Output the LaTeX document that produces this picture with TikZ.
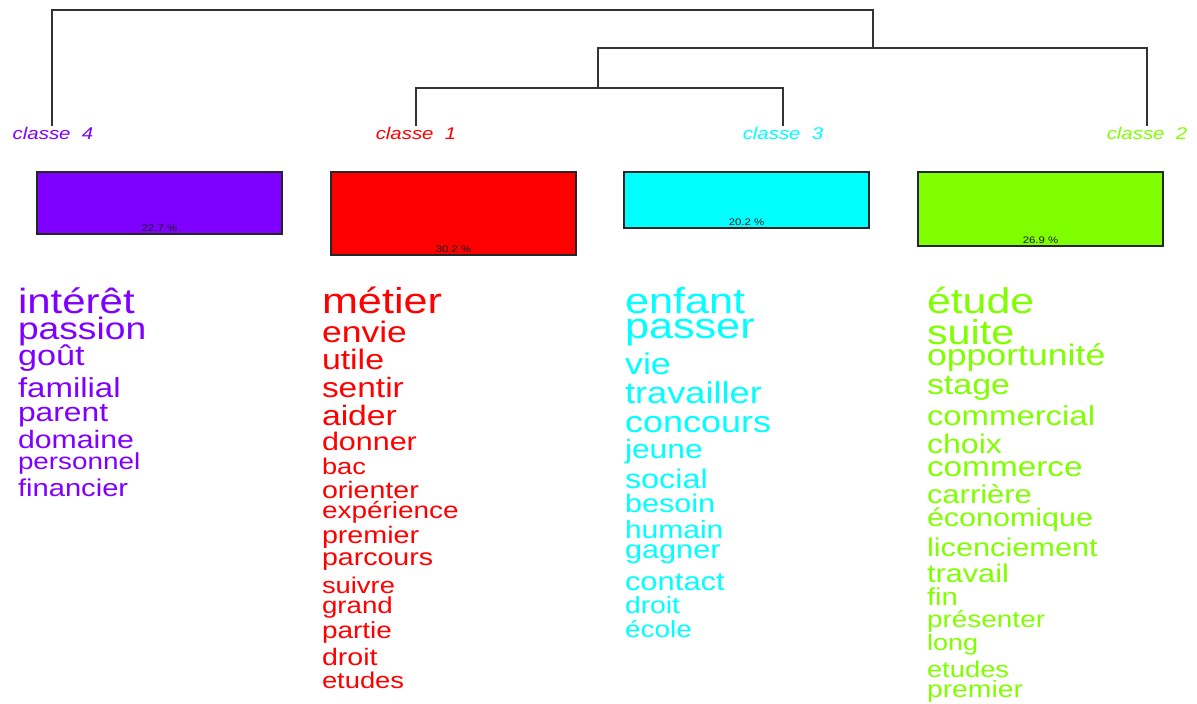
\documentclass[tikz,border=0pt]{standalone}
\usepackage{fontspec}
\setmainfont{Liberation Sans}[FakeStretch=1.2]
\usetikzlibrary{calc}
\definecolor{cone}{HTML}{FF0000}
\definecolor{ctwo}{HTML}{80FF00}
\definecolor{cthree}{HTML}{00FFFF}
\definecolor{cfour}{HTML}{8000FF}
\begin{document}
\begin{tikzpicture}[x=1pt,y=-1pt,
  every node/.style={inner sep=0pt,outer sep=0pt},
  tree/.style={draw=black!80,line width=1.3pt},
  classbox/.style={draw=black!85,line width=1.3pt,minimum width=245pt,anchor=north west},
  classlabel/.style={anchor=base,font=\itshape\fontsize{17}{17}\selectfont},
  pct/.style={anchor=base,font=\fontsize{9.5}{9.5}\selectfont,text=black!90},
  word/.style={anchor=base west}]
\useasboundingbox (0,0) rectangle (1197,704);
% class labels
\node[classlabel,text=cfour] (cl4) at (53,139) {classe\ \ 4};
\node[classlabel,text=cone] (cl1) at (416,139) {classe\ \ 1};
\node[classlabel,text=cthree] (cl3) at (783,139) {classe\ \ 3};
\node[classlabel,text=ctwo] (cl2) at (1147,139) {classe\ \ 2};
% dendrogram
\coordinate (l4) at (52,126);
\coordinate (l1) at (416,126);
\coordinate (l3) at (783,126);
\coordinate (l2) at (1147,126);
\coordinate (n13) at (598,88);
\coordinate (n132) at (873,48);
\coordinate (rt) at (873,10);
\draw[tree] (l1) -- (l1 |- n13) -- (l3 |- n13) -- (l3);
\draw[tree] (n13) -- (n13 |- n132) -- (l2 |- n132) -- (l2);
\draw[tree] (n132) -- (rt) -- (l4 |- rt) -- (l4);
% boxes
\node[classbox,fill=cfour,minimum height=62pt] (box4) at (37,172) {};
\node[classbox,fill=cone,minimum height=83pt] (box1) at (331,172) {};
\node[classbox,fill=cthree,minimum height=56pt] (box3) at (624,172) {};
\node[classbox,fill=ctwo,minimum height=74pt] (box2) at (918,172) {};
\node[pct] (p4) at ($(box4.south)+(0,-3)$) {22.7 \%};
\node[pct] (p1) at ($(box1.south)+(0,-3)$) {30.2 \%};
\node[pct] (p3) at ($(box3.south)+(0,-3)$) {20.2 \%};
\node[pct] (p2) at ($(box2.south)+(0,-3)$) {26.9 \%};
% words class 4
\foreach \w/\s/\y [count=\i] in {intérêt/35/313,passion/31/339,goût/28.5/365,familial/27.5/397,parent/26.5/421,domaine/25.2/448,personnel/23.2/469,financier/24.3/496}
  \node[word,text=cfour,font=\fontsize{\s}{\s}\selectfont] (wfour\i) at (18,\y) {\w};
% words class 1
\foreach \w/\s/\y [count=\i] in {métier/36/313,envie/29.6/342,utile/28.2/369,sentir/27.9/397,aider/28.1/425,donner/25.4/450,bac/22.7/474,orienter/23.8/498,expérience/23.3/518,premier/23.9/543,parcours/23.8/565,suivre/22.8/593,grand/23.1/613,partie/23.3/638,droit/23.8/665,etudes/22.8/688}
  \node[word,text=cone,font=\fontsize{\s}{\s}\selectfont] (wone\i) at (322,\y) {\w};
% words class 3
\foreach \w/\s/\y [count=\i] in {enfant/36/313,passer/36/338,vie/30/374,travailler/30.2/403,concours/30/432,jeune/26.5/458,social/27/488,besoin/25.5/512,humain/25/538,gagner/25.6/558,contact/25.8/590,droit/23.6/613,école/23.3/637}
  \node[word,text=cthree,font=\fontsize{\s}{\s}\selectfont] (wthree\i) at (625,\y) {\w};
% words class 2
\foreach \w/\s/\y [count=\i] in {étude/35.7/313,suite/34.5/344,opportunité/29.7/365,stage/28.3/394,commercial/27.4/425,choix/26.8/453,commerce/27.8/476,carrière/25.8/503,économique/25.4/526,licenciement/25.6/556,travail/25.6/582,fin/24.5/605,présenter/23.3/627,long/22.5/650,etudes/22.8/677,premier/23.6/697}
  \node[word,text=ctwo,font=\fontsize{\s}{\s}\selectfont] (wtwo\i) at (927,\y) {\w};
\end{tikzpicture}
\end{document}
